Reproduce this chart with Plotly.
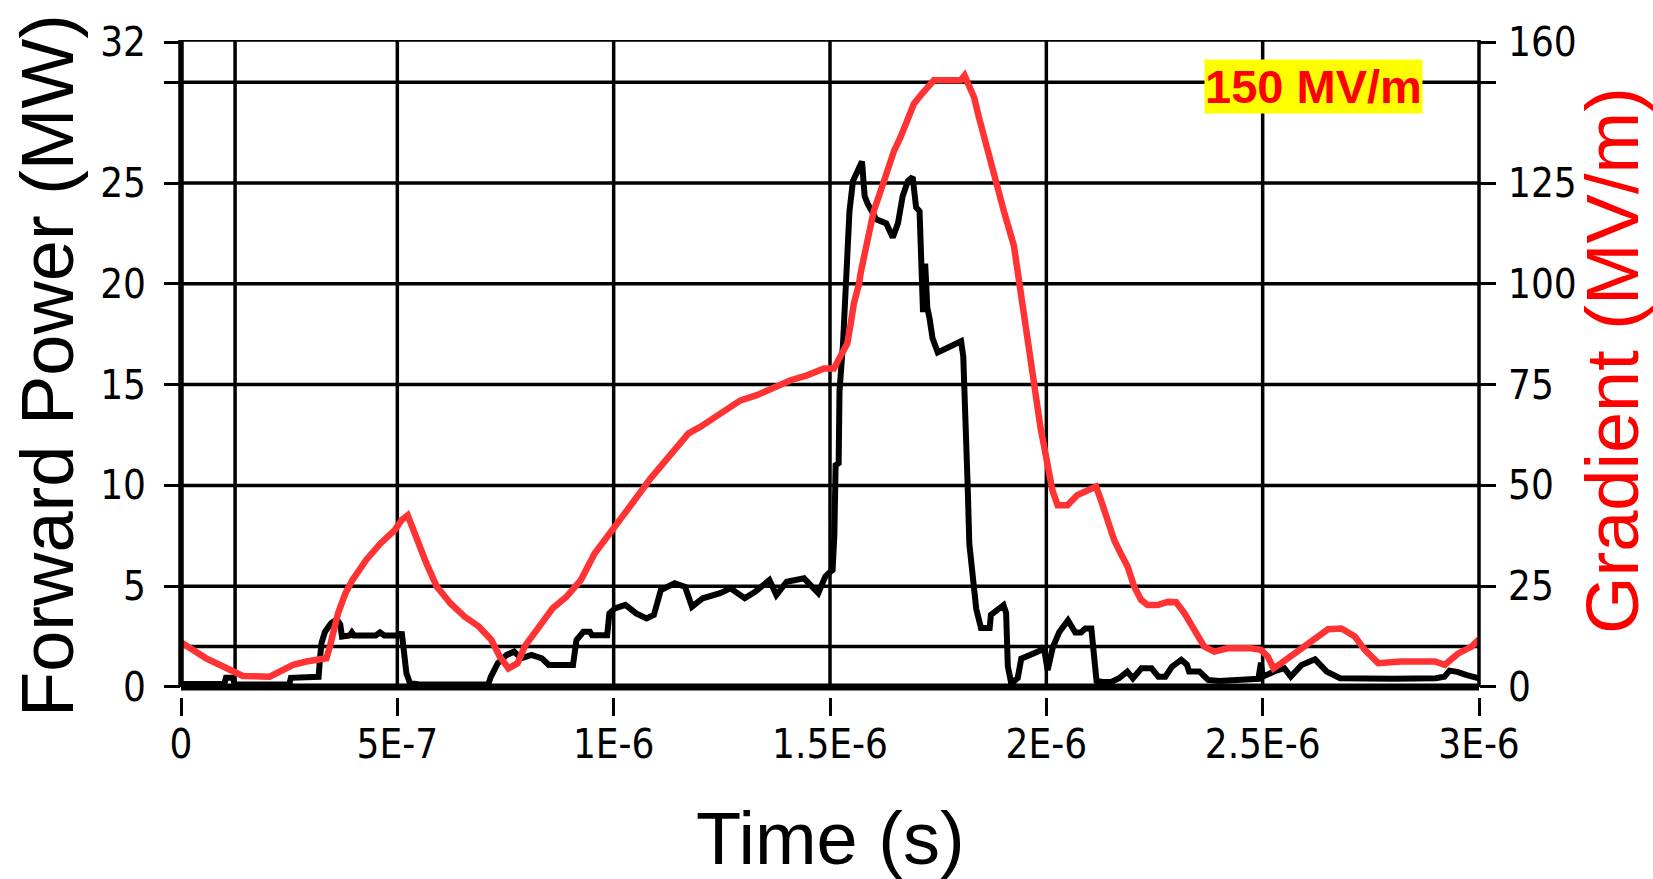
import plotly.graph_objects as go

# ---------------- data ----------------
# Forward power (MW) vs time (microseconds)
power_t_us = [0.0, 0.100, 0.104, 0.120, 0.124, 0.250, 0.254, 0.314, 0.318, 0.322, 0.325, 0.333,
              0.347, 0.360, 0.368, 0.372, 0.390, 0.395, 0.400, 0.450, 0.460, 0.470, 0.508, 0.510,
              0.513, 0.521, 0.529, 0.550, 0.710, 0.716, 0.732, 0.753, 0.770, 0.786, 0.810, 0.834,
              0.850, 0.906, 0.914, 0.930, 0.945, 0.950, 0.985, 0.990, 1.003, 1.027, 1.052, 1.076,
              1.093, 1.109, 1.141, 1.165, 1.181, 1.206, 1.246, 1.270, 1.303, 1.327, 1.360, 1.376,
              1.400, 1.440, 1.473, 1.489, 1.497, 1.506, 1.510, 1.513, 1.520, 1.522, 1.530, 1.537,
              1.545, 1.553, 1.564, 1.574, 1.580, 1.587, 1.607, 1.630, 1.645, 1.657, 1.668, 1.680,
              1.691, 1.699, 1.707, 1.711, 1.715, 1.720, 1.725, 1.730, 1.737, 1.749, 1.768, 1.791,
              1.803, 1.808, 1.810, 1.818, 1.822, 1.830, 1.838, 1.849, 1.869, 1.872, 1.884, 1.901,
              1.907, 1.911, 1.919, 1.934, 1.942, 1.961, 1.984, 1.994, 2.003, 2.015, 2.030, 2.050,
              2.067, 2.080, 2.090, 2.104, 2.108, 2.116, 2.130, 2.150, 2.168, 2.187, 2.200, 2.220,
              2.243, 2.259, 2.275, 2.290, 2.312, 2.325, 2.330, 2.354, 2.374, 2.400, 2.450, 2.490,
              2.496, 2.500, 2.530, 2.550, 2.565, 2.590, 2.621, 2.648, 2.679, 2.720, 2.800, 2.900,
              2.920, 2.932, 2.950, 2.970, 2.995, 3.000]
power_mw = [0.15, 0.15, 0.45, 0.45, 0.12, 0.12, 0.45, 0.45, 0.50, 1.60, 2.20, 2.74,
            3.16, 3.35, 3.10, 2.50, 2.55, 2.70, 2.55, 2.55, 2.70, 2.55, 2.55, 2.74,
            2.00, 0.68, 0.20, 0.12, 0.12, 0.50, 1.17, 1.59, 1.75, 1.42, 1.59, 1.42,
            1.09, 1.09, 2.33, 2.74, 2.74, 2.57, 2.57, 3.65, 3.90, 4.07, 3.65, 3.40,
            3.57, 4.81, 5.14, 4.97, 3.98, 4.40, 4.65, 4.89, 4.40, 4.72, 5.30, 4.56,
            5.22, 5.39, 4.65, 5.47, 5.64, 5.80, 7.50, 11.0, 11.1, 14.7, 17.0, 20.9,
            23.6, 25.1, 25.7, 26.07, 24.36, 23.98, 23.2, 23.0, 22.3, 23.0, 24.36, 25.1,
            25.3, 23.8, 23.6, 21.2, 18.6, 21.0, 18.8, 18.3, 17.3, 16.6, 16.8, 17.05,
            17.15, 16.4, 14.5, 10.1, 7.1, 5.38, 3.87, 2.92, 2.92, 3.58, 3.77, 4.06,
            3.68, 1.02, 0.17, 0.45, 1.40, 1.60, 1.78, 2.00, 0.83, 1.97, 2.73, 3.30,
            2.70, 2.70, 2.90, 2.90, 1.90, 0.30, 0.25, 0.25, 0.43, 0.76, 0.43, 0.93,
            0.93, 0.51, 0.51, 1.00, 1.34, 1.10, 0.76, 0.76, 0.35, 0.30, 0.35, 0.40,
            1.20, 0.51, 0.80, 0.93, 0.51, 1.09, 1.37, 0.76, 0.43, 0.40, 0.40, 0.43,
            0.51, 0.81, 0.75, 0.60, 0.43, 0.43]

# Gradient (MV/m) vs time (microseconds)
grad_t_us = [0.000, 0.004, 0.027, 0.058, 0.089, 0.120, 0.143, 0.205, 0.228, 0.259, 0.290, 0.313,
             0.336, 0.344, 0.351, 0.363, 0.380, 0.396, 0.428, 0.461, 0.494, 0.510, 0.524, 0.542,
             0.567, 0.591, 0.623, 0.656, 0.688, 0.717, 0.737, 0.757, 0.778, 0.794, 0.826, 0.859,
             0.891, 0.924, 0.956, 0.989, 1.037, 1.085, 1.108, 1.131, 1.154, 1.173, 1.200, 1.231,
             1.262, 1.293, 1.331, 1.370, 1.409, 1.447, 1.486, 1.509, 1.520, 1.540, 1.548, 1.555,
             1.567, 1.571, 1.586, 1.601, 1.625, 1.636, 1.648, 1.663, 1.679, 1.694, 1.710, 1.725,
             1.740, 1.802, 1.811, 1.821, 1.833, 1.844, 1.856, 1.868, 1.879, 1.902, 1.925, 1.941,
             1.956, 1.972, 1.987, 1.995, 2.006, 2.014, 2.026, 2.049, 2.072, 2.103, 2.115, 2.126,
             2.142, 2.157, 2.172, 2.188, 2.203, 2.219, 2.234, 2.257, 2.281, 2.300, 2.319, 2.334,
             2.350, 2.365, 2.388, 2.419, 2.473, 2.496, 2.512, 2.525, 2.543, 2.574, 2.612, 2.651,
             2.682, 2.713, 2.736, 2.767, 2.821, 2.898, 2.921, 2.952, 2.983, 3.000]
grad_mvm = [11.0, 10.8, 9.2, 7.1, 5.5, 3.8, 2.7, 2.55, 3.8, 5.5, 6.3, 6.7,
            7.1, 10.0, 13.3, 18.3, 23.2, 26.5, 31.5, 35.6, 38.9, 41.4, 42.6, 37.3,
            30.7, 24.9, 20.7, 17.4, 15.0, 11.7, 7.5, 4.6, 5.9, 10.0, 15.0, 19.5,
            22.4, 26.5, 33.1, 38.1, 44.7, 51.7, 54.6, 57.1, 60.4, 62.9, 64.5, 66.6,
            69.1, 71.1, 72.4, 74.4, 76.1, 77.3, 79.0, 79.0, 81.0, 85.2, 90.2, 95.0,
            100.0, 102.8, 110.4, 118.0, 125.6, 129.0, 133.0, 136.4, 140.6, 144.7, 146.8, 148.8,
            150.5, 150.5, 151.7, 149.2, 146.3, 141.4, 136.4, 132.3, 126.5, 118.0, 109.5, 98.0,
            84.8, 73.4, 64.0, 59.6, 53.0, 48.8, 45.1, 45.1, 47.6, 49.3, 49.7, 46.4,
            41.4, 36.4, 33.1, 29.8, 24.9, 21.6, 20.3, 20.3, 21.1, 21.0, 18.3, 15.4,
            12.5, 10.0, 8.75, 9.6, 9.6, 9.2, 7.5, 4.6, 5.9, 8.3, 11.6, 14.3,
            14.5, 12.5, 9.2, 5.9, 6.3, 6.3, 5.5, 8.3, 10.0, 11.8]

x_tickvals_us = [0, 0.5, 1.0, 1.5, 2.0, 2.5, 3.0]
x_ticktext = ["0", "5E-7", "1E-6", "1.5E-6", "2E-6", "2.5E-6", "3E-6"]
left_tickvals = [0, 5, 10, 15, 20, 25, 30, 32]
left_ticktext = ["0", "5", "10", "15", "20", "25", "", "32"]
right_tickvals = [0, 25, 50, 75, 100, 125, 150, 160]
right_ticktext = ["0", "25", "50", "75", "100", "125", "", "160"]
grid_x_us = [0.125, 0.5, 1.0, 1.5, 2.0, 2.5]
grid_y_mw = [2, 5, 10, 15, 20, 25, 30]

# ---------------- figure ----------------
US = 1e-6
Y_TOP = 32.1
Y_BOT = -0.5
RATIO = 5.0  # MV/m per MW on the twin axis

tick_font = dict(family="Liberation Sans Narrow, Arial Narrow, DejaVu Sans Condensed, sans-serif",
                 size=40, color="black")

fig = go.Figure()
fig.add_trace(go.Scatter(x=[t * US for t in grad_t_us], y=grad_mvm, mode="lines",
                         line=dict(color="#FF3333", width=6.5), yaxis="y2",
                         showlegend=False, hoverinfo="skip"))
fig.add_trace(go.Scatter(x=[t * US for t in power_t_us], y=power_mw, mode="lines",
                         line=dict(color="black", width=6), yaxis="y",
                         showlegend=False, hoverinfo="skip"))

shapes = []
for gx in grid_x_us:
    shapes.append(dict(type="line", xref="x", yref="y", x0=gx * US, x1=gx * US, y0=0, y1=Y_TOP,
                       line=dict(color="black", width=3.5), layer="below"))
for gy in grid_y_mw:
    shapes.append(dict(type="line", xref="paper", yref="y", x0=0, x1=1, y0=gy, y1=gy,
                       line=dict(color="black", width=3.5), layer="below"))
# frame
shapes.append(dict(type="line", xref="paper", yref="y", x0=0, x1=0, y0=0, y1=Y_TOP,
                   line=dict(color="black", width=5.5)))
shapes.append(dict(type="line", xref="paper", yref="y", x0=1, x1=1, y0=0, y1=Y_TOP,
                   line=dict(color="black", width=3.5)))
shapes.append(dict(type="line", xref="paper", yref="y", x0=0, x1=1, y0=Y_TOP, y1=Y_TOP,
                   line=dict(color="black", width=3.5)))
shapes.append(dict(type="line", xref="paper", yref="y", x0=0, x1=1, y0=0, y1=0,
                   line=dict(color="black", width=7)))

fig.update_layout(
    width=1653, height=879,
    margin=dict(l=181, r=174, t=40, b=182),
    paper_bgcolor="white", plot_bgcolor="white",
    shapes=shapes,
    xaxis=dict(range=[0, 3 * US], tickvals=[v * US for v in x_tickvals_us], ticktext=x_ticktext,
               showgrid=False, zeroline=False, showline=False,
               ticks="outside", ticklen=18, tickwidth=3, tickcolor="black",
               tickfont=tick_font, ticklabelstandoff=-6),
    yaxis=dict(range=[Y_BOT, Y_TOP], tickvals=left_tickvals, ticktext=left_ticktext,
               showgrid=False, zeroline=False, showline=False,
               ticks="outside", ticklen=16, tickwidth=3, tickcolor="black",
               tickfont=tick_font, ticklabelstandoff=10),
    yaxis2=dict(range=[Y_BOT * RATIO, Y_TOP * RATIO], tickvals=right_tickvals, ticktext=right_ticktext,
                overlaying="y", side="right",
                showgrid=False, zeroline=False, showline=False,
                ticks="outside", ticklen=16, tickwidth=3, tickcolor="black",
                tickfont=tick_font, ticklabelstandoff=4),
    annotations=[
        dict(text="Forward Power (MW)", textangle=-90, xref="paper", yref="paper",
             x=-0.1032, y=0.5038, xanchor="center", yanchor="middle", showarrow=False,
             font=dict(family="Liberation Sans, Arial, sans-serif", size=74, color="black")),
        dict(text="Gradient (MV/m)", textangle=-90, xref="paper", yref="paper",
             x=1.1025, y=0.5114, xanchor="center", yanchor="middle", showarrow=False,
             font=dict(family="Liberation Sans, Arial, sans-serif", size=74, color="#FF0000")),
        dict(text="Time (s)", xref="paper", yref="paper",
             x=0.5006, y=-0.216, xanchor="center", yanchor="middle", showarrow=False,
             font=dict(family="Liberation Sans, Arial, sans-serif", size=74, color="black")),
        dict(text="<b>150 MV/m</b>", xref="x", yref="y", x=2.618 * US, y=29.77,
             xanchor="center", yanchor="middle", showarrow=False, bgcolor="#FFFF00", borderpad=0,
             font=dict(family="Liberation Sans, Arial, sans-serif", size=47, color="#FF0000")),
    ],
)

fig.write_html("out.html")
